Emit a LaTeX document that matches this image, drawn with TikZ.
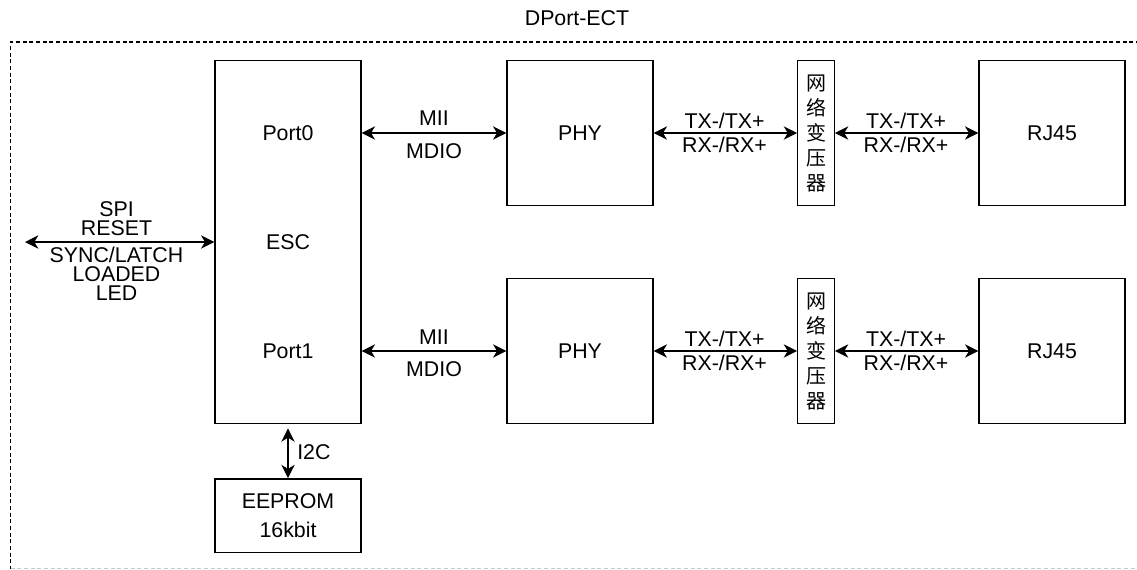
\documentclass[tikz,border=0pt]{standalone}
\usepackage{fontspec}
\setmainfont{Liberation Sans}
\newfontfamily\cjk{Noto Sans CJK SC}
\usetikzlibrary{arrows.meta}

\begin{document}
\begin{tikzpicture}[x=0.75pt,y=-0.75pt,
  every node/.style={font=\fontsize{16}{14.25}\selectfont},
  blk/.style={draw,line width=1pt,minimum width=109.5pt,minimum height=109pt,inner sep=0pt},
  link/.style={line width=1.1pt,{Stealth[length=10pt,width=10pt,inset=3pt]}-{Stealth[length=10pt,width=10pt,inset=3pt]}}]
\useasboundingbox (0,0) rectangle (1137,569);
% outer frame, runs off the right and bottom edges
\draw[line width=1pt,dash pattern=on 3pt off 2pt] (1160,42) -- (10.5,42) -- (10.5,569);
\draw[gray!45,line width=1pt,dash pattern=on 3pt off 2pt] (10.5,568.5) -- (1160,568.5);
\node (title) at (577,18) {DPort-ECT};
% ESC with its ports
\node[blk,minimum height=272.5pt] (esc) at (288,242) {};
\node (port0) at (288,133) {Port0};
\node (esclbl) at (288,242) {ESC};
\node (port1) at (288,351) {Port1};
% upper channel
\node[blk] (phyA) at (580,133) {PHY};
\node[blk,minimum width=27.4pt,align=center,font=\cjk\fontsize{15}{18.75}\selectfont] (xfmA) at (816,133) {网\\络\\变\\压\\器};
\node[blk] (rjA) at (1052,133) {RJ45};
% lower channel
\node[blk] (phyB) at (580,351) {PHY};
\node[blk,minimum width=27.4pt,align=center,font=\cjk\fontsize{15}{18.75}\selectfont] (xfmB) at (816,351) {网\\络\\变\\压\\器};
\node[blk] (rjB) at (1052,351) {RJ45};
% eeprom
\node[blk,minimum height=55pt,align=center] (eeprom) at (288,515.5) {EEPROM\\[7.5pt]16kbit};
% host side
\coordinate (hostend) at (25,242);
\draw[link] (hostend) -- (esc.west);
\node[align=center] (hostlbl) at (116.5,251) {SPI\\RESET\\[6pt]SYNC/LATCH\\LOADED\\LED};
% port 0
\draw[link] (esc.east |- port0) -- (phyA.west);
\node (miiA) at (434,118) {MII};
\node (mdioA) at (434,151) {MDIO};
\draw[link] (phyA) -- (xfmA);
\node (txA) at (724.5,121) {TX-/TX+};
\node (rxA) at (724.5,145) {RX-/RX+};
\draw[link] (xfmA) -- (rjA);
\node (txAA) at (906,121) {TX-/TX+};
\node (rxAA) at (906,145) {RX-/RX+};
% port 1
\draw[link] (esc.east |- port1) -- (phyB.west);
\node (miiB) at (434,337) {MII};
\node (mdioB) at (434,369) {MDIO};
\draw[link] (phyB) -- (xfmB);
\node (txB) at (724.5,339) {TX-/TX+};
\node (rxB) at (724.5,363) {RX-/RX+};
\draw[link] (xfmB) -- (rjB);
\node (txBB) at (906,339) {TX-/TX+};
\node (rxBB) at (906,363) {RX-/RX+};
% i2c
\draw[link,shorten <=3pt] (esc.south) -- (eeprom.north);
\node[anchor=west,inner sep=0pt] (i2c) at (297,452) {I2C};
\end{tikzpicture}
\end{document}
